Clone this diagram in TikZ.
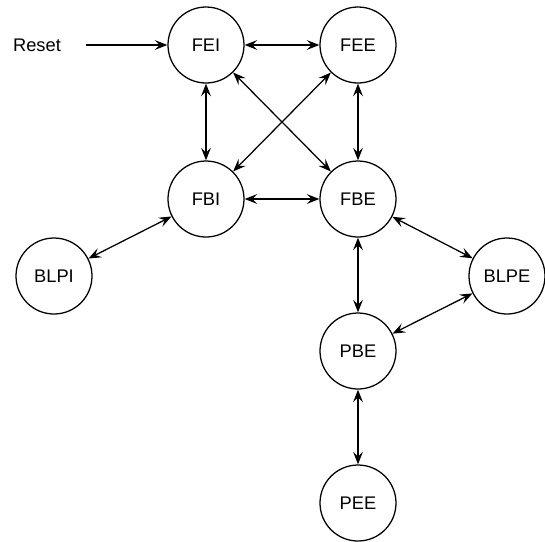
\documentclass[tikz,border=0pt]{standalone}
\usepackage{fontspec}
\setmainfont{Liberation Sans}
\usetikzlibrary{positioning, arrows.meta}

\begin{document}
\begin{tikzpicture}[node distance=3.8cm, on grid, auto,
    state/.style={circle, draw, line width=0.9pt, minimum size=1.9cm, inner sep=0pt, font=\fontsize{13}{15}\selectfont},
    arrow/.style={{Stealth[length=9pt, width=7pt, inset=3.5pt]}-{Stealth[length=9pt, width=7pt, inset=3.5pt]}, line width=0.9pt},
    single/.style={-{Stealth[length=9pt, width=7pt, inset=3.5pt]}, line width=0.9pt}]

\useasboundingbox (-5.15,1.125) rectangle (8.475,-12.4);

% Nodes
\node [state] (fei) {FEI};
\node [state, right=of fei] (fee) {FEE};
\node [state, below=3.85cm of fei] (fbi) {FBI};
\node [state, below=3.85cm of fee] (fbe) {FBE};
\node [state, below left=1.925cm and 3.8cm of fbi] (blpi) {BLPI};
\node [state, below right=1.925cm and 3.725cm of fbe] (blpe) {BLPE};
\node [state, below=of fbe] (pbe) {PBE};
\node [state, below=of pbe] (pee) {PEE};
\node [left=4.225cm of fei, font=\fontsize{13}{15}\selectfont] (reset) {Reset};

% Arrows
\draw [single, shorten <=0.5cm] (reset) -- (fei);
\draw [arrow] (fei) -- (fee);
\draw [arrow] (fei) -- (fbi);
\draw [arrow] (fee) -- (fbe);
\draw [arrow] (fei) -- (fbe);
\draw [arrow] (fee) -- (fbi);
\draw [arrow] (fbi) -- (fbe);
\draw [arrow] (fbi) -- (blpi);
\draw [arrow] (fbe) -- (blpe);
\draw [arrow] (fbe) -- (pbe);
\draw [arrow] (blpe) -- (pbe);
\draw [arrow] (pbe) -- (pee);

\end{tikzpicture}
\end{document}
